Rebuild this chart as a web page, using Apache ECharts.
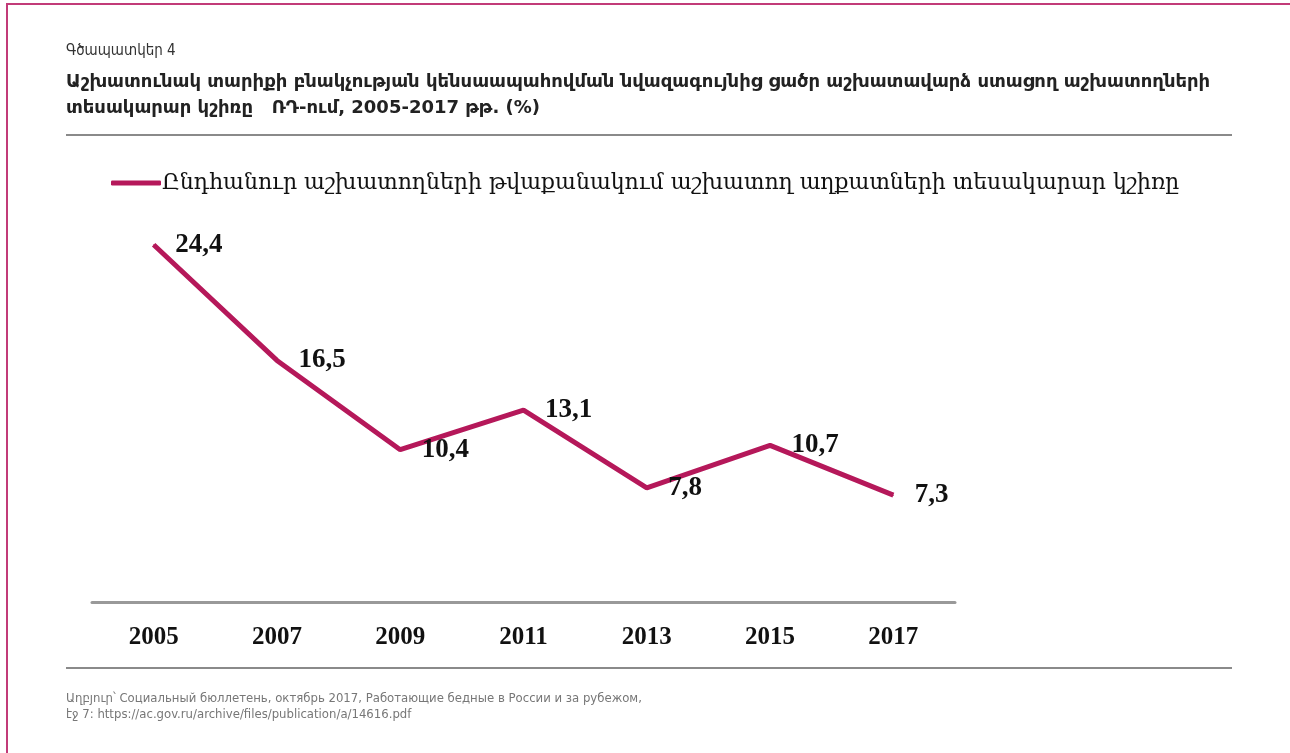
<!DOCTYPE html>
<html>
<head>
<meta charset="utf-8">
<script src="https://cdn.jsdelivr.net/npm/echarts@6/dist/echarts.min.js"></script>
<style>
  html, body { margin: 0; padding: 0; background: #fff; }
  #chart { width: 1290px; height: 753px; }
</style>
</head>
<body>
<div id="chart"></div>
<script>
var years = ["2005", "2007", "2009", "2011", "2013", "2015", "2017"];
var shares = [24.4, 16.5, 10.4, 13.1, 7.8, 10.7, 7.3];
var seriesName = "Ընդհանուր աշխատողների թվաքանակում աշխատող աղքատների տեսակարար կշիռը";

var accent = "#b5185a";
var sansArm = "'DejaVu Sans', sans-serif";
var sansCond = "'DejaVu Sans Condensed', 'DejaVu Sans', sans-serif";

var myChart = echarts.init(document.getElementById("chart"));
var option = {
  animation: false,
  title: [
    {
      text: "Գծապատկեր 4",
      left: 61, top: 39,
      textStyle: { fontSize: 15, fontWeight: "normal", color: "#333", fontFamily: sansCond }
    },
    {
      text: "Աշխատունակ տարիքի բնակչության կենսաապահովման նվազագույնից ցածր աշխատավարձ ստացող աշխատողների\nտեսակարար կշիռը   ՌԴ-ում, 2005-2017 թթ. (%)",
      left: 61, top: 64,
      textStyle: { fontSize: 18, fontWeight: "bold", color: "#222", lineHeight: 26, fontFamily: sansArm }
    },
    {
      text: "Աղբյուր՝ Социальный бюллетень, октябрь 2017, Работающие бедные в России и за рубежом,\nէջ 7: https://ac.gov.ru/archive/files/publication/a/14616.pdf",
      left: 61, top: 686,
      textStyle: { fontSize: 13, fontWeight: "normal", color: "#777", lineHeight: 16, fontFamily: sansCond }
    }
  ],
  graphic: [
    { type: "rect", shape: { x: 6, y: 3, width: 1290, height: 2 }, style: { fill: "#c23b78" } },
    { type: "rect", shape: { x: 6, y: 3, width: 2, height: 760 }, style: { fill: "#c23b78" } },
    { type: "rect", shape: { x: 66, y: 134, width: 1166, height: 2 }, style: { fill: "#8a8a8a" } },
    { type: "rect", shape: { x: 66, y: 667, width: 1166, height: 2 }, style: { fill: "#8a8a8a" } }
  ],
  legend: {
    left: 106, top: 167,
    icon: "roundRect",
    itemWidth: 50, itemHeight: 5, itemGap: 4,
    textStyle: { fontSize: 22, color: "#111", fontFamily: "'DejaVu Serif', serif", padding: [0, 0, 0, -4] },
    data: [seriesName]
  },
  grid: { left: 92, width: 863, top: 236, bottom: 151, containLabel: false },
  xAxis: {
    type: "category",
    data: years,
    boundaryGap: true,
    axisTick: { show: false },
    axisLine: { lineStyle: { color: "#999", width: 3 } },
    axisLabel: {
      margin: 23,
      fontSize: 25, fontWeight: "bold", color: "#111",
      fontFamily: "'Liberation Serif', 'Times New Roman', serif"
    }
  },
  yAxis: {
    type: "value",
    min: 0, max: 25,
    show: false,
    splitLine: { show: false }
  },
  series: [
    {
      name: seriesName,
      type: "line",
      data: shares,
      symbol: "circle",
      symbolSize: 1,
      showSymbol: true,
      lineStyle: { color: accent, width: 5 },
      itemStyle: { color: accent },
      label: {
        show: true,
        position: "right",
        distance: 21,
        fontSize: 27, fontWeight: "bold", color: "#111",
        fontFamily: "'Liberation Serif', 'Times New Roman', serif",
        formatter: function (p) { return String(p.value).replace(".", ","); }
      }
    }
  ]
};
myChart.setOption(option);
</script>
</body>
</html>
